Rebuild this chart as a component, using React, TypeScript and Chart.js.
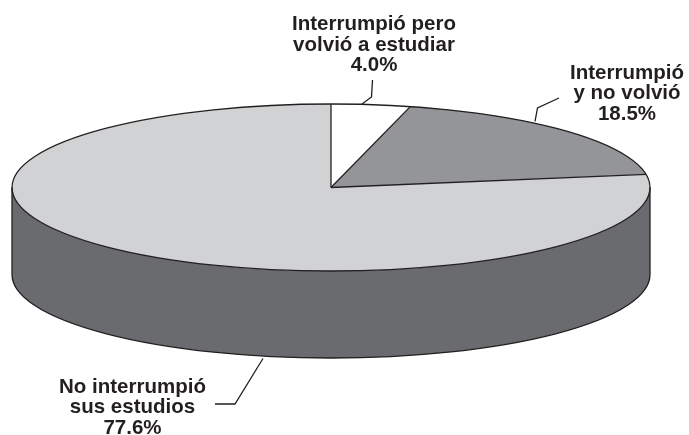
import React, { useEffect, useRef } from "react";
import { Chart, registerables } from "chart.js";

Chart.register(...registerables);

// ---- data ----
const CATEGORIES: string[][] = [
  ["Interrumpió pero", "volvió a estudiar"],
  ["Interrumpió", "y no volvió"],
  ["No interrumpió", "sus estudios"],
];
const VALUES: number[] = [4.0, 18.5, 77.6];

// ---- styles ----
const TOP_COLORS = ["#ffffff", "#939598", "#d1d2d4"];
const SIDE_COLORS = ["#b5b6b8", "#5a5b5e", "#6a6b6f"];
const INK = "#231f20";
const FONT = "bold 20.5px 'Liberation Sans', Arial, Helvetica, sans-serif";
const LINE_H = 20.5;

// ---- layout (3D projection and annotations) ----
const GEO = { cx: 331, cy: 187.5, rx: 319, ry: 83.5, depth: 87 };
const LABEL_POS = [
  { x: 374, y: 30 },
  { x: 627, y: 78.5 },
  { x: 132.5, y: 392.5 },
];
const LEADERS: number[][][] = [
  [[362, 104], [371.5, 97], [372.5, 80]],
  [[535, 121.5], [537.5, 108], [559, 98]],
  [[263, 358.5], [235, 404], [215, 404]],
];

const pie3d = {
  id: "pie3d",
  beforeDatasetsDraw(chart: any) {
    const ctx = chart.ctx as CanvasRenderingContext2D;
    const arcs = chart.getDatasetMeta(0).data;
    const { cx, cy, rx, ry, depth } = GEO;
    // extruded side (only the front half is visible)
    arcs.forEach((arc: any, i: number) => {
      const { startAngle, endAngle } = arc.getProps(["startAngle", "endAngle"], true);
      const a = Math.max(startAngle, 0);
      const b = Math.min(endAngle, Math.PI);
      if (b <= a) return;
      ctx.save();
      ctx.beginPath();
      ctx.ellipse(cx, cy, rx, ry, 0, a, b);
      ctx.ellipse(cx, cy + depth, rx, ry, 0, b, a, true);
      ctx.closePath();
      ctx.fillStyle = SIDE_COLORS[i];
      ctx.fill();
      ctx.restore();
    });
    // squash the library's circular pie into the top ellipse
    const { x, y, outerRadius } = arcs[0].getProps(["x", "y", "outerRadius"], true);
    ctx.save();
    ctx.translate(cx, cy);
    ctx.scale(rx / outerRadius, ry / outerRadius);
    ctx.translate(-x, -y);
  },
  afterDatasetsDraw(chart: any) {
    const ctx = chart.ctx as CanvasRenderingContext2D;
    ctx.restore();
    const arcs = chart.getDatasetMeta(0).data;
    const { cx, cy, rx, ry, depth } = GEO;
    ctx.save();
    ctx.strokeStyle = INK;
    ctx.lineWidth = 1.3;
    ctx.lineJoin = "round";
    // side outline
    ctx.beginPath();
    ctx.moveTo(cx - rx, cy);
    ctx.lineTo(cx - rx, cy + depth);
    ctx.ellipse(cx, cy + depth, rx, ry, 0, Math.PI, 0, true);
    ctx.lineTo(cx + rx, cy);
    ctx.stroke();
    // top ellipse
    ctx.beginPath();
    ctx.ellipse(cx, cy, rx, ry, 0, 0, Math.PI * 2);
    ctx.stroke();
    // slice radii
    arcs.forEach((arc: any) => {
      const { startAngle } = arc.getProps(["startAngle"], true);
      ctx.beginPath();
      ctx.moveTo(cx, cy);
      ctx.lineTo(cx + rx * Math.cos(startAngle), cy + ry * Math.sin(startAngle));
      ctx.stroke();
    });
    ctx.restore();
  },
  afterDraw(chart: any) {
    const ctx = chart.ctx as CanvasRenderingContext2D;
    ctx.save();
    ctx.strokeStyle = INK;
    ctx.lineWidth = 1.3;
    LEADERS.forEach((pts) => {
      ctx.beginPath();
      pts.forEach(([px, py], k) => (k === 0 ? ctx.moveTo(px, py) : ctx.lineTo(px, py)));
      ctx.stroke();
    });
    ctx.fillStyle = INK;
    ctx.font = FONT;
    ctx.textAlign = "center";
    ctx.textBaseline = "alphabetic";
    CATEGORIES.forEach((lines, i) => {
      const all = [...lines, VALUES[i].toFixed(1) + "%"];
      all.forEach((t, k) => {
        ctx.fillText(t, LABEL_POS[i].x, LABEL_POS[i].y + k * LINE_H);
      });
    });
    ctx.restore();
  },
};

export default function App() {
  const ref = useRef<HTMLCanvasElement | null>(null);
  useEffect(() => {
    if (!ref.current) return;
    const chart = new Chart(ref.current, {
      type: "pie",
      data: {
        labels: CATEGORIES.map((l) => l.join(" ")),
        datasets: [
          {
            data: VALUES,
            backgroundColor: TOP_COLORS,
            borderWidth: 0,
          },
        ],
      },
      options: {
        animation: false,
        responsive: true,
        maintainAspectRatio: false,
        layout: { padding: 0 },
        plugins: {
          legend: { display: false },
          tooltip: { enabled: false },
        },
      },
      plugins: [pie3d],
    });
    return () => chart.destroy();
  }, []);
  return (
    <div style={{ position: "fixed", left: 0, top: 0, width: 689, height: 435, background: "#fff" }}>
      <canvas ref={ref} />
    </div>
  );
}
